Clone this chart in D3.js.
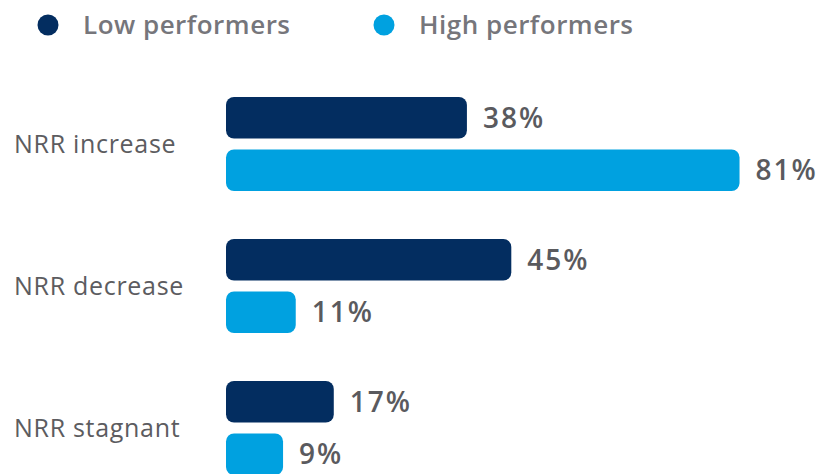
<!DOCTYPE html>
<html>
<head>
<meta charset="utf-8">
<script src="https://cdn.jsdelivr.net/npm/d3@7"></script>
<style>
  html, body { margin: 0; padding: 0; background: #fff; }
  svg { display: block; font-family: "Open Sans", "Noto Sans", sans-serif; }
</style>
</head>
<body>
<svg id="chart" width="818" height="474"></svg>
<script>
// NRR outcome by performer group
const categories = ["NRR increase", "NRR decrease", "NRR stagnant"];
const seriesNames = ["Low performers", "High performers"];
const lowPerformers = [38, 45, 17];
const highPerformers = [81, 11, 9];
const colors = ["#032D60", "#00A1E0"];

const rows = categories.map((c, i) => ({
  category: c,
  values: [
    { series: seriesNames[0], value: lowPerformers[i] },
    { series: seriesNames[1], value: highPerformers[i] }
  ]
}));

const svg = d3.select("#chart");

const x = d3.scaleLinear().domain([0, 100]).range([226, 860]);

const y0 = d3.scaleBand()
  .domain(categories)
  .range([73, 499])
  .paddingInner(48 / 142)
  .paddingOuter(24 / 142);

const y1 = d3.scaleBand()
  .domain(seriesNames)
  .range([0, y0.bandwidth()])
  .paddingInner(0.21);

const color = d3.scaleOrdinal().domain(seriesNames).range(colors);

// Legend
const legend = svg.append("g");
const legendX = [48, 384];
seriesNames.forEach((s, i) => {
  const g = legend.append("g").attr("transform", `translate(${legendX[i]},25)`);
  g.append("circle").attr("r", 10.5).attr("fill", color(s));
  g.append("text")
    .attr("x", 35)
    .attr("dy", "0.35em")
    .attr("font-size", 26)
    .attr("font-weight", 600)
    .attr("letter-spacing", 0.5)
    .attr("fill", "#76767b")
    .text(s);
});

// Category labels
svg.append("g").selectAll("text")
  .data(categories)
  .join("text")
  .attr("x", 14)
  .attr("y", d => y0(d) + y0.bandwidth() / 2)
  .attr("dy", "0.35em")
  .attr("font-size", 25)
  .attr("letter-spacing", 0.7)
  .attr("fill", "#5c5c60")
  .text(d => d);

// Bars
const groups = svg.append("g").selectAll("g")
  .data(rows)
  .join("g")
  .attr("transform", d => `translate(0,${y0(d.category)})`);

groups.selectAll("rect")
  .data(d => d.values)
  .join("rect")
  .attr("x", x(0))
  .attr("y", d => y1(d.series))
  .attr("width", d => x(d.value) - x(0))
  .attr("height", y1.bandwidth())
  .attr("rx", 8)
  .attr("fill", d => color(d.series));

groups.selectAll("text")
  .data(d => d.values)
  .join("text")
  .attr("x", d => x(d.value) + 16)
  .attr("y", d => y1(d.series) + y1.bandwidth() / 2)
  .attr("dy", "0.35em")
  .attr("font-size", 28)
  .attr("font-weight", 600)
  .attr("letter-spacing", 2)
  .attr("fill", "#5a5a5e")
  .text(d => d.value + "%");
</script>
</body>
</html>
